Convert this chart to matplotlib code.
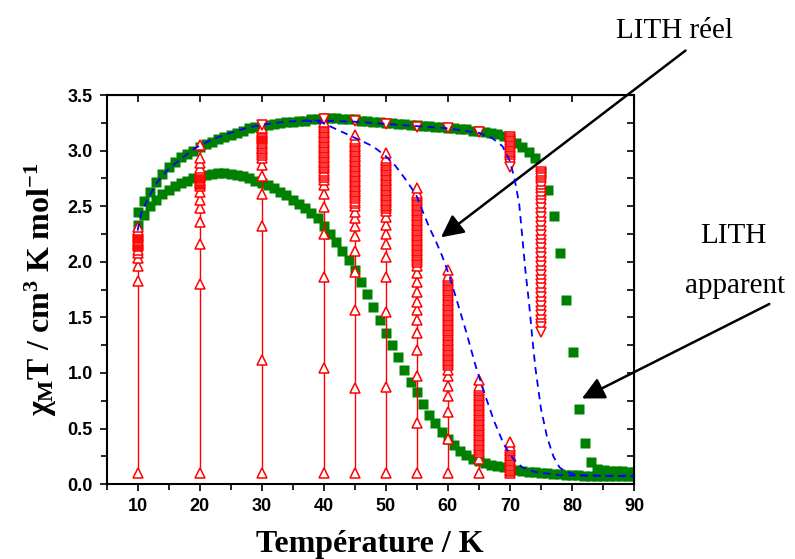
import matplotlib
matplotlib.use("Agg")
import matplotlib.pyplot as plt
from matplotlib.ticker import MultipleLocator

plt.rcParams['mathtext.fontset'] = 'custom'
plt.rcParams['mathtext.rm'] = 'Liberation Serif:bold'
plt.rcParams['mathtext.it'] = 'Liberation Serif:bold'
plt.rcParams['mathtext.bf'] = 'Liberation Serif:bold'

# green squares, upper branch (LITH apparent)
upper_t = [10, 11, 12, 13, 14, 15, 16, 17, 18, 19, 20, 21, 22, 23, 24, 25, 26, 27, 28, 29,
           30, 31, 32, 33, 34, 35, 36, 37, 38, 39, 40, 41, 42, 43, 44, 45, 46, 47, 48, 49,
           50, 51, 52, 53, 54, 55, 56, 57, 58, 59, 60, 61, 62, 63, 64, 65, 66, 67, 68, 69,
           70, 71, 72, 73, 74.1, 75.0, 76.1, 77.1, 78.1, 79.1, 80.2, 81.1, 82.1, 83.0, 84.1,
           85.1, 86.1, 87.1, 88.1, 89.1, 90.0]
upper_chi = [2.45, 2.55, 2.63, 2.72, 2.79, 2.85, 2.90, 2.94, 2.97, 3.00, 3.03, 3.06, 3.08, 3.10,
             3.12, 3.14, 3.16, 3.18, 3.20, 3.21, 3.22, 3.23, 3.24, 3.25, 3.26, 3.26, 3.27, 3.27,
             3.28, 3.28, 3.29, 3.29, 3.29, 3.28, 3.28, 3.28, 3.27, 3.27, 3.26, 3.26, 3.25, 3.25,
             3.24, 3.24, 3.23, 3.23, 3.22, 3.22, 3.21, 3.21, 3.20, 3.20, 3.19, 3.19, 3.18, 3.18,
             3.17, 3.16, 3.15, 3.13, 3.10, 3.07, 3.03, 2.99, 2.93, 2.81, 2.65, 2.41, 2.08, 1.66,
             1.19, 0.68, 0.37, 0.20, 0.14, 0.13, 0.12, 0.12, 0.12, 0.11, 0.11]

# green squares, lower branch
lower_t = [10, 11, 12, 13, 14, 15, 16, 17, 18, 19, 20, 21, 22, 23, 24, 25, 26, 27, 28, 29,
           30, 31, 32, 33, 34, 35, 36, 37, 38, 39, 40, 41, 42, 43, 44, 45, 46, 47, 48, 49,
           50, 51, 52, 53, 54, 55, 56, 57, 58, 59, 60, 61, 62, 63, 64, 65, 66, 67, 68, 69,
           70, 71, 72, 73, 74, 75, 76, 77, 78, 79, 80, 81, 82, 83, 84, 85, 86, 87, 88, 89, 90]
lower_chi = [2.33, 2.42, 2.50, 2.56, 2.61, 2.65, 2.68, 2.71, 2.73, 2.75, 2.77, 2.78, 2.79, 2.80,
             2.80, 2.79, 2.78, 2.77, 2.75, 2.73, 2.71, 2.69, 2.66, 2.63, 2.60, 2.56, 2.52, 2.48,
             2.44, 2.39, 2.32, 2.25, 2.18, 2.10, 2.02, 1.93, 1.82, 1.71, 1.59, 1.48, 1.36, 1.25,
             1.14, 1.03, 0.92, 0.83, 0.72, 0.62, 0.55, 0.47, 0.41, 0.35, 0.30, 0.26, 0.23, 0.21,
             0.19, 0.17, 0.16, 0.15, 0.14, 0.13, 0.12, 0.11, 0.11, 0.10, 0.10, 0.09, 0.09, 0.08,
             0.08, 0.08, 0.07, 0.07, 0.07, 0.07, 0.07, 0.07, 0.07, 0.07, 0.07]

# blue dashed simulations
sim_real_t = [10, 10.6, 11.7, 13.1, 14.9, 17.1, 19.2, 22, 25, 28, 31, 34, 37, 40, 45, 50, 55,
              60, 65, 67.2, 68.8, 69.9, 70.7, 71.5, 72.0, 72.5, 73.1, 73.6, 74.1, 75.0, 76.0,
              77.0, 78.0, 79.0, 81.0, 85.0, 90.0]
sim_real_chi = [2.28, 2.44, 2.57, 2.71, 2.83, 2.93, 3.02, 3.10, 3.16, 3.21, 3.24, 3.26, 3.27,
                3.27, 3.26, 3.24, 3.22, 3.20, 3.16, 3.11, 3.04, 2.92, 2.76, 2.52, 2.22, 1.92,
                1.62, 1.32, 1.05, 0.68, 0.42, 0.25, 0.15, 0.11, 0.08, 0.075, 0.07]
sim_relax_t = [37, 39.8, 42.5, 45.2, 47.9, 50.0, 51.6, 53.2, 54.9, 55.9, 57.0, 58.1, 59.1, 60.2,
               61.3, 62.1, 62.9, 64.5, 66.0, 67.5, 69.0, 70.5, 72.0, 74.0, 78.0, 84.0, 90.0]
sim_relax_chi = [3.27, 3.25, 3.18, 3.11, 3.04, 2.95, 2.86, 2.74, 2.60, 2.46, 2.31, 2.18, 2.05,
                 1.88, 1.68, 1.53, 1.38, 1.06, 0.80, 0.56, 0.36, 0.23, 0.15, 0.11, 0.08, 0.075,
                 0.075]

# red open up-triangles: relaxation at fixed temperature
relax_up = {
    10: [0.10, 1.83, 1.96, 2.03, 2.08, 2.11, 2.14, 2.15, 2.16, 2.17, 2.18, 2.19, 2.20, 2.21,
         2.22, 2.23, 2.24, 2.25, 2.26, 2.27, 2.28, 2.29, 2.31],
    20: [0.10, 1.80, 2.16, 2.36, 2.48, 2.56, 2.63, 2.68, 2.70, 2.71, 2.72, 2.73, 2.74, 2.75,
         2.76, 2.77, 2.78, 2.79, 2.80, 2.81, 2.82, 2.83, 2.84, 2.89, 2.93, 3.05],
    30: [0.10, 1.12, 2.32, 2.61, 2.77, 2.87, 2.93, 2.96, 2.98, 2.995, 3.01, 3.025, 3.04,
         3.055, 3.07, 3.085, 3.10, 3.11, 3.12, 3.13, 3.14, 3.15, 3.16, 3.17, 3.18, 3.19, 3.20],
    40: [0.10, 1.04, 1.86, 2.25, 2.49, 2.61, 2.69, 2.74, 2.76, 2.78, 2.80, 2.82, 2.84, 2.855,
         2.87, 2.885, 2.90, 2.915, 2.93, 2.945, 2.96, 2.975, 2.99, 3.005, 3.02, 3.035, 3.05,
         3.065, 3.08, 3.095, 3.11, 3.125, 3.14, 3.155, 3.17, 3.185, 3.20, 3.215, 3.23, 3.245,
         3.26],
    45: [0.10, 0.86, 1.57, 1.91, 2.10, 2.23, 2.32, 2.39, 2.45, 2.50, 2.53, 2.55, 2.57, 2.59,
         2.61, 2.625, 2.64, 2.655, 2.67, 2.685, 2.70, 2.715, 2.73, 2.745, 2.76, 2.775, 2.79,
         2.805, 2.82, 2.835, 2.85, 2.865, 2.88, 2.895, 2.91, 2.925, 2.94, 2.955, 2.97, 2.985,
         3.00, 3.015, 3.03, 3.045, 3.06, 3.075, 3.09, 3.10, 3.14],
    50: [0.10, 0.87, 1.55, 1.86, 2.04, 2.16, 2.25, 2.33, 2.40, 2.46, 2.48, 2.50, 2.515, 2.53,
         2.545, 2.56, 2.575, 2.59, 2.605, 2.62, 2.635, 2.65, 2.665, 2.68, 2.695, 2.71, 2.725,
         2.74, 2.755, 2.77, 2.785, 2.80, 2.815, 2.83, 2.845, 2.86, 2.875, 2.89, 2.905, 2.92,
         2.93, 2.98],
    55: [0.10, 0.55, 0.97, 1.21, 1.36, 1.48, 1.57, 1.64, 1.73, 1.82, 1.90, 1.96, 2.00, 2.02,
         2.035, 2.05, 2.065, 2.08, 2.095, 2.11, 2.125, 2.14, 2.155, 2.17, 2.185, 2.20, 2.215,
         2.23, 2.245, 2.26, 2.275, 2.29, 2.305, 2.32, 2.335, 2.35, 2.365, 2.38, 2.395, 2.41,
         2.425, 2.44, 2.455, 2.47, 2.485, 2.50, 2.515, 2.53, 2.545, 2.56, 2.575, 2.59, 2.605,
         2.62, 2.66],
    60: [0.10, 0.41, 0.65, 0.79, 0.88, 0.97, 1.03, 1.07, 1.09, 1.105, 1.12, 1.135, 1.15,
         1.165, 1.18, 1.195, 1.21, 1.225, 1.24, 1.255, 1.27, 1.285, 1.30, 1.315, 1.33, 1.345,
         1.36, 1.375, 1.39, 1.405, 1.42, 1.435, 1.45, 1.465, 1.48, 1.495, 1.51, 1.525, 1.54,
         1.555, 1.57, 1.585, 1.60, 1.615, 1.63, 1.645, 1.66, 1.675, 1.69, 1.705, 1.72, 1.735,
         1.75, 1.765, 1.78, 1.795, 1.81, 1.825, 1.84, 1.855, 1.87, 1.93],
    65: [0.10, 0.23, 0.29, 0.31, 0.325, 0.34, 0.355, 0.37, 0.385, 0.40, 0.415, 0.43, 0.445,
         0.46, 0.475, 0.49, 0.505, 0.52, 0.535, 0.55, 0.565, 0.58, 0.595, 0.61, 0.625, 0.64,
         0.655, 0.67, 0.685, 0.70, 0.715, 0.73, 0.745, 0.76, 0.775, 0.79, 0.805, 0.82, 0.835,
         0.85, 0.865, 0.88, 0.94],
    70: [0.10, 0.115, 0.13, 0.145, 0.16, 0.175, 0.19, 0.205, 0.22, 0.235, 0.25, 0.265, 0.28,
         0.295, 0.31, 0.325, 0.34, 0.38],
}

# red open down-triangles
relax_down = {
    30: [3.23],
    40: [3.28],
    45: [3.27],
    50: [3.24],
    55: [3.21],
    60: [3.20],
    65: [3.17],
    70: [3.12, 3.105, 3.09, 3.075, 3.06, 3.045, 3.03, 3.015, 3.00, 2.985, 2.97, 2.955, 2.94,
         2.925, 2.91, 2.895, 2.88, 2.85],
    75: [2.81, 2.79, 2.77, 2.75, 2.73, 2.71, 2.69, 2.67, 2.64, 2.61, 2.58, 2.55, 2.52, 2.48,
         2.44, 2.40, 2.36, 2.32, 2.28, 2.24, 2.20, 2.16, 2.12, 2.08, 2.04, 2.00, 1.96, 1.92,
         1.88, 1.84, 1.80, 1.76, 1.72, 1.68, 1.64, 1.60, 1.56, 1.52, 1.48, 1.44, 1.41, 1.37],
}

fig = plt.figure(figsize=(7.95, 5.59), dpi=100)
ax = fig.add_axes([0.134, 0.134, 0.6635, 0.696])

ax.plot(upper_t, upper_chi, 's', color='#008000', ms=7.5, mec='none', zorder=2)
ax.plot(lower_t, lower_chi, 's', color='#008000', ms=7.5, mec='none', zorder=2)

for t, vals in relax_up.items():
    ax.plot([t] * len(vals), vals, '-^', color='red', lw=1, ms=7.5, mew=1.1,
            mfc='white', mec='red', zorder=3)
for t, vals in relax_down.items():
    ax.plot([t] * len(vals), vals, '-v', color='red', lw=1, ms=7.5, mew=1.1,
            mfc='white', mec='red', zorder=3)

ax.plot(sim_real_t, sim_real_chi, '--', color='blue', lw=1.3, dashes=(4, 3), zorder=4)
ax.plot(sim_relax_t, sim_relax_chi, '--', color='blue', lw=1.3, dashes=(4, 3), zorder=4)

ax.set_xlim(5, 90)
ax.set_ylim(0, 3.5)
ax.xaxis.set_minor_locator(MultipleLocator(5))
ax.yaxis.set_major_locator(MultipleLocator(0.5))
ax.yaxis.set_minor_locator(MultipleLocator(0.25))
ax.set_xticks([10, 20, 30, 40, 50, 60, 70, 80, 90])
ax.tick_params(which='both', direction='out', width=1.2, top=False, right=False)
ax.tick_params(which='major', length=5, pad=5)
ax.tick_params(which='minor', length=4)
for lab in ax.get_xticklabels() + ax.get_yticklabels():
    lab.set_fontfamily('Liberation Sans')
    lab.set_fontweight('bold')
    lab.set_fontsize(13)
for sp in ax.spines.values():
    sp.set_linewidth(1.5)

top = ax.secondary_xaxis('top')
top.set_xticks([10, 20, 30, 40, 50, 60, 70, 80, 90])
top.tick_params(direction='in', length=5, width=1.2, labeltop=False)
right = ax.secondary_yaxis('right')
right.yaxis.set_major_locator(MultipleLocator(0.25))
right.tick_params(direction='in', length=5, width=1.2, labelright=False)

ax.set_xlabel('Température / K', family='Liberation Serif', fontweight='bold',
              fontsize=23, labelpad=11)
ax.set_ylabel(r'$\chi_{\mathrm{M}}$T / cm$^{3}$ K mol$^{-1}$', family='Liberation Serif',
              fontweight='bold', fontsize=23, labelpad=6)

arrow = dict(arrowstyle='-|>', mutation_scale=34, lw=1.8, color='black',
             shrinkA=0, shrinkB=0)
ax.annotate('', xy=(58.9, 2.22), xytext=(98.3, 3.90), arrowprops=arrow,
            annotation_clip=False)
ax.annotate('', xy=(81.6, 0.77), xytext=(111.8, 1.62), arrowprops=arrow,
            annotation_clip=False)

fig.text(0.848, 0.945, 'LITH réel', family='Liberation Serif', fontsize=21,
         ha='center', va='center')
fig.text(0.922, 0.578, 'LITH', family='Liberation Serif', fontsize=21,
         ha='center', va='center')
fig.text(0.925, 0.488, 'apparent', family='Liberation Serif', fontsize=21,
         ha='center', va='center')

fig.savefig('out.png', dpi=100)
